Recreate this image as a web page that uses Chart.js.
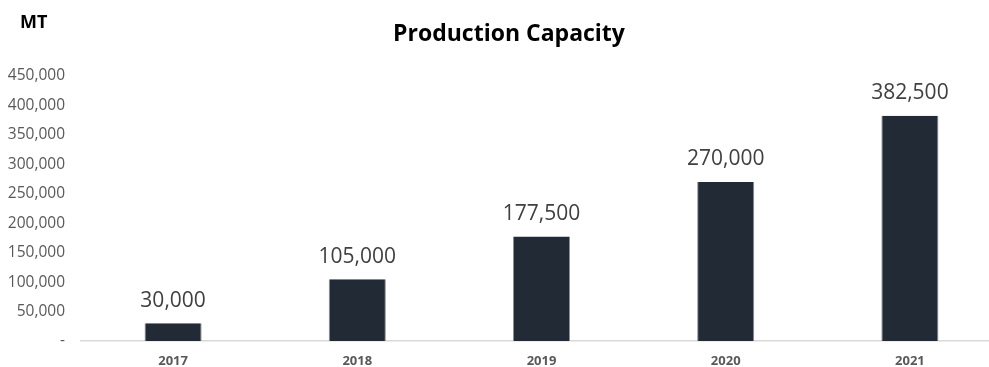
<!DOCTYPE html>
<html>
<head>
<meta charset="utf-8">
<script src="https://cdn.jsdelivr.net/npm/chart.js@4/dist/chart.umd.min.js"></script>
<style>
  html, body { margin: 0; padding: 0; background: #fff; overflow: hidden; }
  #wrap { position: relative; width: 1010px; height: 367px; }
</style>
</head>
<body>
<div id="wrap"><canvas id="c" width="1010" height="367"></canvas></div>
<script>
const years = ['2017', '2018', '2019', '2020', '2021'];
const capacity = [30000, 105000, 177500, 270000, 382500];
const yMax = 450000;
const yStep = 50000;

const chartTitle = 'Production Capacity';
const unitLabel = 'MT';

const fmt = v => v.toLocaleString('en-US');

// Title, unit label and value labels above each bar
const annotate = {
  id: 'annotate',
  afterDatasetsDraw(chart) {
    const ctx = chart.ctx;
    ctx.save();
    ctx.fillStyle = '#000';
    ctx.textBaseline = 'middle';
    ctx.font = 'bold 23px "Open Sans"';
    ctx.textAlign = 'center';
    ctx.fillText(chartTitle, 509, 34);
    ctx.font = 'bold 18px "Open Sans"';
    ctx.textAlign = 'left';
    ctx.fillText(unitLabel, 20, 23);

    const meta = chart.getDatasetMeta(0);
    ctx.font = '21px "Open Sans"';
    ctx.fillStyle = '#404040';
    ctx.textAlign = 'center';
    ctx.textBaseline = 'bottom';
    meta.data.forEach((bar, i) => {
      ctx.fillText(fmt(capacity[i]), bar.x, bar.y - 12);
    });
    ctx.restore();
  }
};

new Chart(document.getElementById('c'), {
  type: 'bar',
  data: {
    labels: years,
    datasets: [{
      data: capacity,
      backgroundColor: '#222a35',
      borderColor: '#8a8f96',
      borderWidth: { top: 0, left: 1, right: 1, bottom: 0 },
      barPercentage: 0.31,
      categoryPercentage: 1
    }]
  },
  options: {
    responsive: false,
    animation: false,
    layout: { padding: { top: 76, right: 8, bottom: 0, left: 0 } },
    plugins: { legend: { display: false }, tooltip: { enabled: false }, title: { display: false } },
    scales: {
      x: {
        grid: { display: false, tickLength: 0 },
        border: { display: true, color: '#d9d9d9', width: 1.5 },
        ticks: {
          color: '#595959',
          font: { family: '"Open Sans"', size: 13, weight: 'bold' },
          padding: 12
        },
        afterFit(scale) { scale.height = 26; }
      },
      y: {
        min: 0,
        max: yMax,
        grid: { display: false, tickLength: 0 },
        border: { display: false },
        ticks: {
          stepSize: yStep,
          color: '#595959',
          font: { family: '"Open Sans"', size: 15.5 },
          padding: 16,
          callback: v => v === 0 ? '-' : fmt(v)
        },
        afterFit(scale) { scale.width = 81; }
      }
    }
  },
  plugins: [annotate]
});
</script>
</body>
</html>
